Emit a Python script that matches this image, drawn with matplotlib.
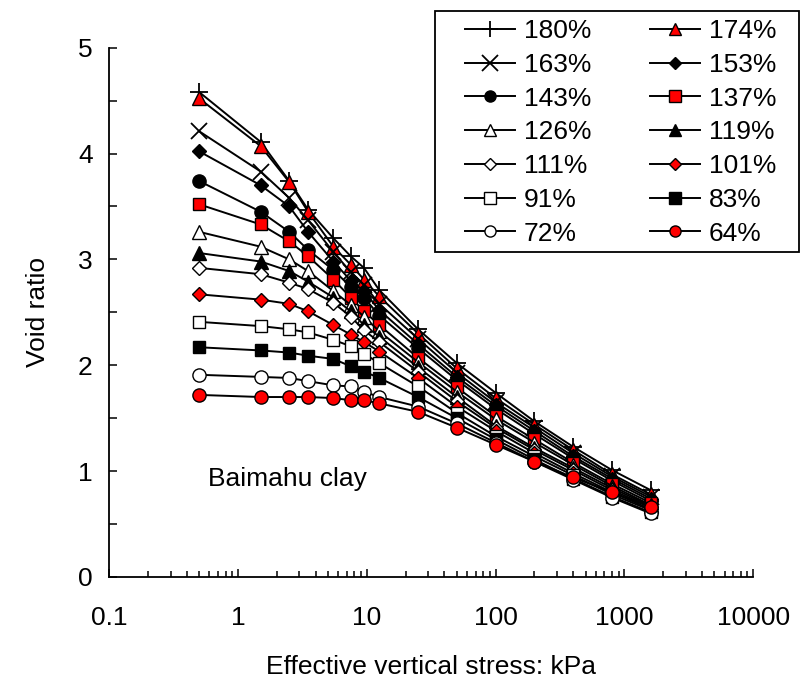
import matplotlib
matplotlib.use("Agg")
import matplotlib.pyplot as plt
from matplotlib.ticker import LogLocator, NullFormatter, MultipleLocator
from matplotlib.patches import Rectangle

plt.rcParams['font.family'] = ['Liberation Sans', 'DejaVu Sans']

stress = [0.5, 1.5, 2.5, 3.5, 5.5, 7.5, 9.5, 12.5, 25, 50, 100, 200, 400, 800, 1600]

labels = ['180%', '174%', '163%', '153%', '143%', '137%', '126%',
          '119%', '111%', '101%', '91%', '83%', '72%', '64%']

e180 = [4.58, 4.11, 3.74, 3.47, 3.20, 3.03, 2.92, 2.71, 2.34, 2.02, 1.74, 1.47, 1.23, 1.01, 0.82]
e174 = [4.52, 4.07, 3.73, 3.45, 3.12, 2.95, 2.81, 2.65, 2.30, 1.97, 1.69, 1.44, 1.20, 0.97, 0.78]
e163 = [4.21, 3.83, 3.58, 3.37, 3.07, 2.88, 2.76, 2.58, 2.25, 1.93, 1.65, 1.41, 1.17, 0.95, 0.76]
e153 = [4.02, 3.70, 3.50, 3.26, 2.98, 2.80, 2.70, 2.52, 2.20, 1.89, 1.62, 1.38, 1.14, 0.93, 0.74]
e143 = [3.74, 3.45, 3.26, 3.09, 2.90, 2.74, 2.64, 2.47, 2.16, 1.86, 1.59, 1.35, 1.12, 0.91, 0.72]
e137 = [3.52, 3.33, 3.17, 3.03, 2.81, 2.64, 2.51, 2.38, 2.07, 1.79, 1.52, 1.30, 1.08, 0.88, 0.70]
e126 = [3.26, 3.12, 3.00, 2.89, 2.70, 2.57, 2.46, 2.32, 2.03, 1.75, 1.49, 1.27, 1.06, 0.86, 0.68]
e119 = [3.06, 2.98, 2.89, 2.79, 2.64, 2.51, 2.38, 2.27, 1.98, 1.70, 1.43, 1.22, 1.03, 0.84, 0.67]
e111 = [2.92, 2.86, 2.78, 2.72, 2.59, 2.46, 2.33, 2.22, 1.94, 1.66, 1.41, 1.20, 1.01, 0.82, 0.66]
e101 = [2.67, 2.62, 2.58, 2.51, 2.38, 2.29, 2.22, 2.13, 1.88, 1.61, 1.38, 1.17, 0.98, 0.80, 0.64]
e91 = [2.41, 2.37, 2.34, 2.31, 2.24, 2.18, 2.11, 2.02, 1.80, 1.55, 1.33, 1.14, 0.96, 0.78, 0.63]
e83 = [2.17, 2.14, 2.12, 2.09, 2.06, 1.99, 1.94, 1.88, 1.70, 1.50, 1.30, 1.11, 0.93, 0.76, 0.61]
e72 = [1.91, 1.89, 1.88, 1.85, 1.81, 1.80, 1.75, 1.70, 1.61, 1.45, 1.27, 1.09, 0.92, 0.75, 0.60]
e64 = [1.72, 1.70, 1.70, 1.70, 1.69, 1.67, 1.67, 1.64, 1.56, 1.41, 1.25, 1.09, 0.94, 0.80, 0.66]

series = [e180, e174, e163, e153, e143, e137, e126, e119, e111, e101, e91, e83, e72, e64]

# marker, facecolor, plot size, legend size
styles = [
    ('+', 'black', 13, 12),
    ('^', 'red', 9.5, 9),
    ('x', 'black', 12, 11),
    ('D', 'black', 7, 6.5),
    ('o', 'black', 9.5, 8),
    ('s', 'red', 9, 8),
    ('^', 'white', 9.5, 9),
    ('^', 'black', 9.5, 9),
    ('D', 'white', 7, 6.5),
    ('D', 'red', 7, 6.5),
    ('s', 'white', 9, 8),
    ('s', 'black', 9, 8),
    ('o', 'white', 9.5, 8),
    ('o', 'red', 9.5, 8),
]

FS = 19

fig = plt.figure(figsize=(8.03, 6.91), dpi=100)
ax = fig.add_axes([0.136, 0.165, 0.802, 0.766])

for vals, lab, (m, fc, ms, lms) in zip(series, labels, styles):
    ax.plot(stress, vals, color='black', lw=1.4, marker=m, markersize=ms,
            markerfacecolor=fc, markeredgecolor='black',
            markeredgewidth=1.3 if m in ('+', 'x') else 1.0, label=lab)

ax.set_xscale('log')
ax.set_xlim(0.1, 10000)
ax.set_ylim(0, 5)

ax.spines['top'].set_visible(False)
ax.spines['right'].set_visible(False)
for s in ('left', 'bottom'):
    ax.spines[s].set_linewidth(1.3)

ax.xaxis.set_minor_locator(LogLocator(base=10, subs=range(2, 10), numticks=20))
ax.xaxis.set_minor_formatter(NullFormatter())
ax.set_xticks([0.1, 1, 10, 100, 1000, 10000])
ax.set_xticklabels(['0.1', '1', '10', '100', '1000', '10000'])
ax.yaxis.set_major_locator(MultipleLocator(1))
ax.yaxis.set_minor_locator(MultipleLocator(0.5))

ax.tick_params(axis='both', which='both', direction='in', width=1.1, labelsize=FS)
ax.tick_params(axis='x', which='major', length=5.5, pad=21)
ax.tick_params(axis='x', which='minor', length=4)
ax.tick_params(axis='y', which='both', length=6, pad=12)

ax.set_xlabel('Effective vertical stress: kPa', fontsize=FS, labelpad=18)
ax.set_ylabel('Void ratio', fontsize=FS, labelpad=20)

ax.text(0.59, 0.93, 'Baimahu clay', fontsize=FS, va='center', ha='left')

# legend ordered row-wise in two columns
order = [0, 2, 4, 6, 8, 10, 12, 1, 3, 5, 7, 9, 11, 13]
leg_handles = []
for i in order:
    m, fc, ms, lms = styles[i]
    h, = ax.plot([], [], color='black', lw=1.4, marker=m, markersize=lms,
                 markerfacecolor=fc, markeredgecolor='black',
                 markeredgewidth=1.3 if m in ('+', 'x') else 1.0)
    leg_handles.append(h)
leg = fig.legend(leg_handles, [labels[i] for i in order], ncol=2,
                 loc='upper left', bbox_to_anchor=(465 / 803, 1 - 19 / 691),
                 fontsize=FS, frameon=False, borderpad=0, borderaxespad=0,
                 handlelength=1.9, handletextpad=0.34, columnspacing=2.2,
                 labelspacing=0.37)
fig.patches.append(Rectangle((435 / 803, 1 - 252 / 691), (799 - 435) / 803,
                             (252 - 11) / 691, transform=fig.transFigure,
                             fill=False, edgecolor='black', lw=1.3))

fig.savefig('out.png', dpi=100)
